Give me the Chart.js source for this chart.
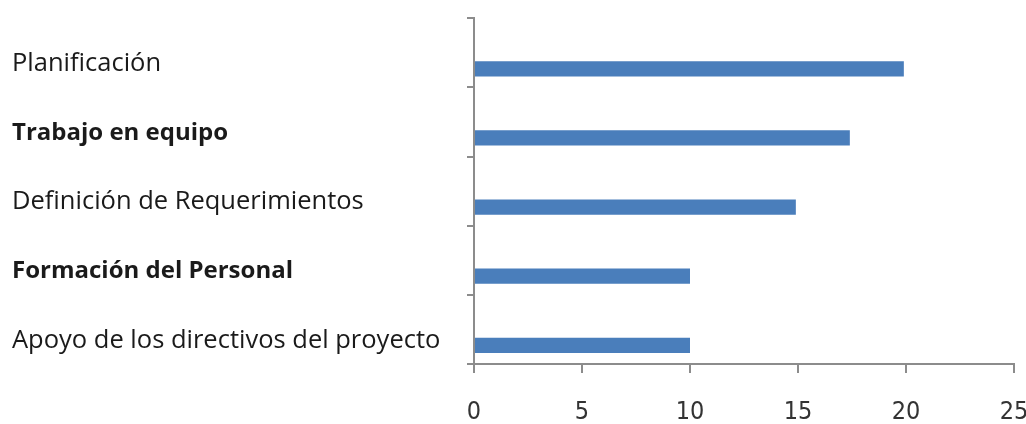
<!DOCTYPE html>
<html>
<head>
<meta charset="utf-8">
<script src="https://cdn.jsdelivr.net/npm/chart.js@4"></script>
<style>
  html, body { margin: 0; padding: 0; background: #fff; }
  #wrap { width: 1026px; height: 424px; }
</style>
</head>
<body>
<div id="wrap"><canvas id="factores_Chart" width="1026" height="424"></canvas></div>
<script>
// categorias (eje y) y valores de la serie
var categorias = ['Planificación', 'Trabajo en equipo', 'Definición de Requerimientos', 'Formación del Personal', 'Apoyo de los directivos del proyecto'];
var valores = [19.9, 17.4, 14.9, 10.0, 10.0];
var vacia = [null, null, null, null, null]; // serie sin datos (ocupa el hueco de arriba)
var negritas = [false, true, false, true, false];
var ejeX = { min: 0, max: 25, paso: 5 };

var gris = '#8c8c8c';

var context = document.getElementById('factores_Chart').getContext('2d');
var factores_Chart = new Chart(context, {
	type: 'bar',
	data: {
		labels: categorias,
		datasets: [
			{ label: 'vacia', data: vacia, backgroundColor: '#4a7ebb' },
			{ label: 'valores', data: valores, backgroundColor: '#4a7ebb' }
		]
	},
	options: {
		indexAxis: 'y',
		responsive: false,
		animation: false,
		categoryPercentage: 0.92,
		barPercentage: 0.48,
		layout: { padding: { top: 17, right: 0, left: 12, bottom: 0 } },
		plugins: {
			legend: { display: false },
			tooltip: { enabled: false }
		},
		scales: {
			x: {
				min: ejeX.min,
				max: ejeX.max,
				ticks: {
					stepSize: ejeX.paso,
					padding: 24,
					color: '#333',
					font: { family: '"Liberation Sans Narrow", "DejaVu Sans Condensed", sans-serif', size: 25 }
				},
				grid: { drawOnChartArea: false, tickLength: 9, color: gris, lineWidth: 2 },
				border: { color: gris, width: 2 },
				afterFit: function(s) {
					s.height = 60;
					s.paddingRight = 12; // deja el eje llegar hasta el 25
					s.paddingLeft = 0;
				}
			},
			y: {
				ticks: {
					crossAlign: 'far',
					labelOffset: 11,
					color: '#1a1a1a',
					font: function(ctx) {
						return negritas[ctx.index]
							? { family: '"Open Sans", sans-serif', size: 24, weight: 'bold' }
							: { family: '"Open Sans", sans-serif', size: 25.5, weight: 'normal' };
					}
				},
				grid: { drawOnChartArea: false, tickLength: 7, color: gris, lineWidth: 2 },
				border: { color: gris, width: 2 },
				afterFit: function(s) { s.width = 462; }
			}
		}
	}
});
</script>
</body>
</html>
